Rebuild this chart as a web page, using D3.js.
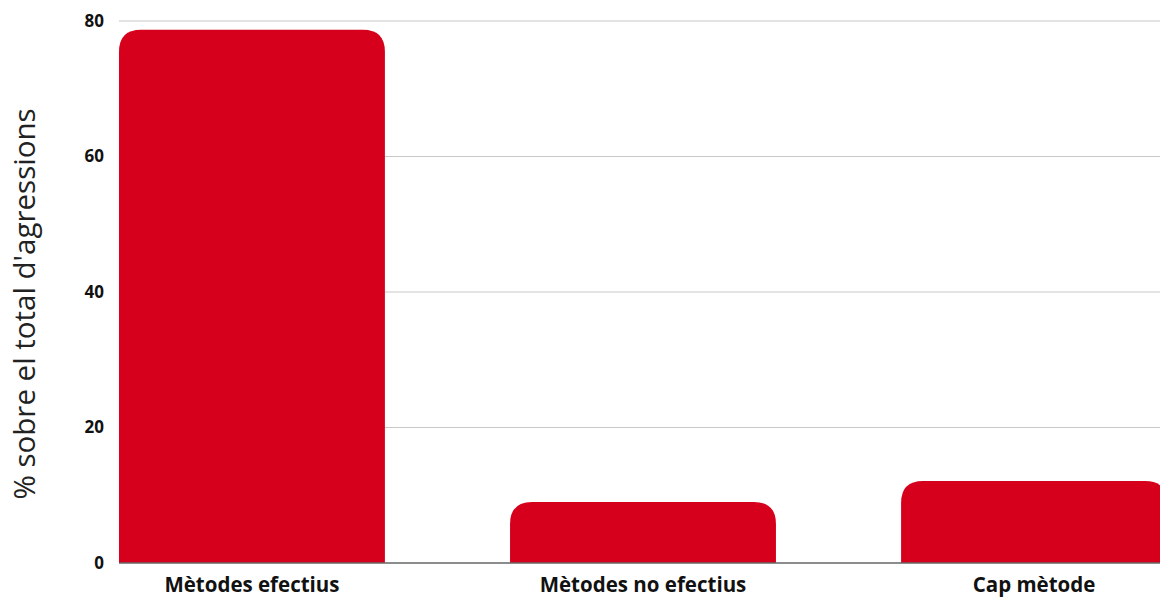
<!DOCTYPE html>
<html>
<head>
<meta charset="UTF-8">
<title>Mètodes</title>
<script src="https://d3js.org/d3.v7.min.js"></script>
<style>
  body { margin: 0; padding: 0; background: #fff; font-family: "Open Sans", sans-serif; }
  svg { display: block; }
  .tick text { font-family: "Open Sans", sans-serif; font-weight: bold; font-size: 17px; fill: #111; }
</style>
</head>
<body>
<div id="chart"></div>
<script>
const categories = ["Mètodes efectius", "Mètodes no efectius", "Cap mètode"];
const values = [78.7, 9.0, 12.1];
const yTicks = [0, 20, 40, 60, 80];

const width = 1160, height = 597;
const margin = { top: 21, right: 0, bottom: 34, left: 119 };

const svg = d3.select("#chart").append("svg")
  .attr("width", width)
  .attr("height", height);

const x = d3.scaleBand()
  .domain(categories)
  .range([margin.left, 1167])
  .paddingInner(0.32)
  .paddingOuter(0);

const y = d3.scaleLinear()
  .domain([0, 80])
  .range([height - margin.bottom, margin.top]);

// gridlines
svg.append("g")
  .selectAll("line")
  .data(yTicks.filter(d => d > 0))
  .enter()
  .append("line")
  .attr("x1", margin.left)
  .attr("x2", width)
  .attr("y1", d => y(d))
  .attr("y2", d => y(d))
  .attr("stroke", "#c8c8c8")
  .attr("stroke-width", 1);

// bars with rounded top corners
const r = 22;
function barPath(x0, w, yTop, yBase) {
  const rr = Math.min(r, (yBase - yTop), w / 2);
  return `M${x0},${yBase}V${yTop + rr}Q${x0},${yTop} ${x0 + rr},${yTop}` +
    `H${x0 + w - rr}Q${x0 + w},${yTop} ${x0 + w},${yTop + rr}V${yBase}Z`;
}

svg.append("g")
  .selectAll("path")
  .data(values)
  .enter()
  .append("path")
  .attr("d", (d, i) => barPath(x(categories[i]), x.bandwidth(), y(d), y(0)))
  .attr("fill", "#d6001c");

// baseline
svg.append("line")
  .attr("x1", margin.left)
  .attr("x2", width)
  .attr("y1", y(0))
  .attr("y2", y(0))
  .attr("stroke", "#666")
  .attr("stroke-width", 1.5);

// y axis
const yAxis = svg.append("g")
  .attr("transform", `translate(${margin.left},0)`)
  .call(d3.axisLeft(y).tickValues(yTicks).tickSize(0).tickPadding(15));
yAxis.select(".domain").remove();

// x labels
svg.append("g")
  .selectAll("text")
  .data(categories)
  .enter()
  .append("text")
  .attr("x", d => x(d) + x.bandwidth() / 2)
  .attr("y", y(0) + 29)
  .attr("text-anchor", "middle")
  .attr("font-weight", "bold")
  .attr("font-size", "20.5px")
  .attr("fill", "#111")
  .text(d => d);

// y title
svg.append("text")
  .attr("transform", `translate(35,${(margin.top + y(0)) / 2 + 12}) rotate(-90)`)
  .attr("text-anchor", "middle")
  .attr("font-size", "29.5px")
  .attr("fill", "#222")
  .text("% sobre el total d'agressions");
</script>
</body>
</html>
